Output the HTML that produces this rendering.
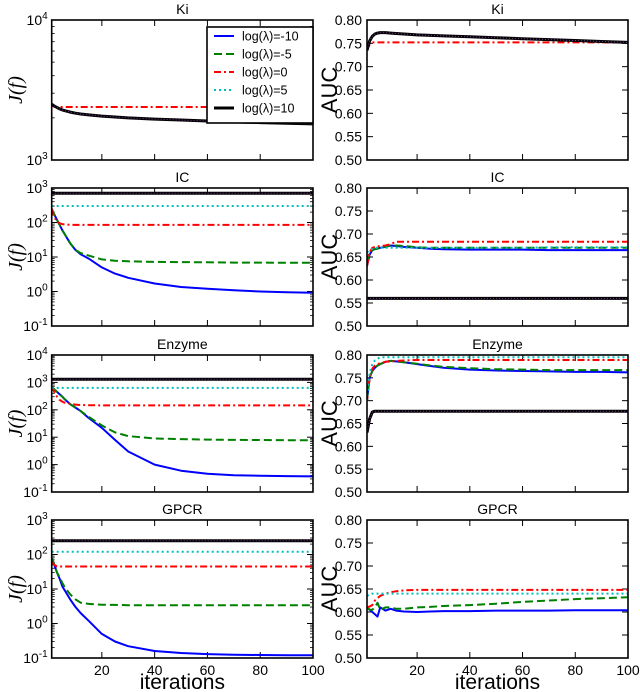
<!DOCTYPE html>
<html><head><meta charset="utf-8">
<style>
body{margin:0;background:#fff;}
svg{display:block;font-family:"Liberation Sans",sans-serif;}
</style></head>
<body>
<svg id="fig" width="640" height="692" viewBox="0 0 640 692" xmlns="http://www.w3.org/2000/svg"></svg>
<script>
const iters = [1,2,3,4,5,6,8,10,12,15,20,25,30,40,50,60,70,80,90,100];
const xTicks = [20,40,60,80,100];
const seriesNames = ["log(λ)=-10","log(λ)=-5","log(λ)=0","log(λ)=5","log(λ)=10"];
const aucTicks = ["0.50","0.55","0.60","0.65","0.70","0.75","0.80"];

// Ki
const kiJ_m10 = [2500,2430,2370,2320,2280,2250,2200,2160,2130,2100,2060,2030,2000,1960,1930,1900,1870,1850,1830,1810];
const kiJ_m5 = kiJ_m10.slice();
const kiJ_0 = [2500,2400,2390,2390,2390,2390,2390,2390,2390,2390,2390,2390,2390,2390,2390,2390,2390,2390,2390,2390];
const kiJ_5 = kiJ_m10.slice();
const kiJ_10 = kiJ_m10.slice();
const kiA_m10 = [0.735,0.755,0.765,0.770,0.772,0.773,0.773,0.772,0.771,0.770,0.768,0.767,0.766,0.764,0.762,0.760,0.758,0.756,0.754,0.752];
const kiA_m5 = kiA_m10.slice();
const kiA_0 = [0.735,0.748,0.752,0.752,0.752,0.752,0.752,0.752,0.752,0.752,0.752,0.752,0.752,0.752,0.752,0.752,0.752,0.752,0.752,0.752];
const kiA_5 = kiA_m10.slice();
const kiA_10 = kiA_m10.slice();
// IC
const icJ_m10 = [250,170,120,85,60,45,25,16,12,9,5,3.3,2.5,1.7,1.35,1.2,1.08,1.0,0.95,0.92];
const icJ_m5 = [250,170,120,85,60,45,25,16,13,11,8.5,7.8,7.5,7.2,7.1,7.0,6.9,6.9,6.8,6.8];
const icJ_0 = [250,140,110,95,90,88,86,85,85,85,85,85,85,85,85,85,85,85,85,85];
const icJ_5 = [300,300,300,300,300,300,300,300,300,300,300,300,300,300,300,300,300,300,300,300];
const icJ_10 = [700,700,700,700,700,700,700,700,700,700,700,700,700,700,700,700,700,700,700,700];
const icA_m10 = [0.63,0.655,0.665,0.667,0.668,0.670,0.672,0.675,0.674,0.672,0.670,0.668,0.667,0.666,0.666,0.666,0.665,0.665,0.665,0.665];
const icA_m5 = [0.64,0.66,0.665,0.667,0.668,0.670,0.673,0.675,0.675,0.674,0.671,0.670,0.670,0.670,0.670,0.670,0.670,0.670,0.670,0.670];
const icA_0 = [0.63,0.66,0.67,0.672,0.673,0.674,0.675,0.678,0.683,0.683,0.683,0.683,0.683,0.683,0.683,0.683,0.683,0.683,0.683,0.683];
const icA_5 = [0.66,0.665,0.668,0.670,0.670,0.670,0.670,0.670,0.670,0.670,0.670,0.670,0.670,0.670,0.670,0.670,0.671,0.671,0.671,0.671];
const icA_10 = [0.56,0.56,0.56,0.56,0.56,0.56,0.56,0.56,0.56,0.56,0.56,0.56,0.56,0.56,0.56,0.56,0.56,0.56,0.56,0.56];
// Enzyme
const enJ_m10 = [700,550,450,370,300,240,160,120,90,50,22,8,3,1.0,0.6,0.46,0.41,0.39,0.38,0.37];
const enJ_m5 = [700,550,450,370,300,240,160,120,90,55,27,15,11,9,8.5,8.2,8,7.9,7.8,7.7];
const enJ_0 = [700,450,300,230,200,180,165,155,150,147,145,145,145,145,145,145,145,145,145,145];
const enJ_5 = [630,630,630,630,630,630,630,630,630,630,630,630,630,630,630,630,630,630,630,630];
const enJ_10 = [1300,1300,1300,1300,1300,1300,1300,1300,1300,1300,1300,1300,1300,1300,1300,1300,1300,1300,1300,1300];
const enA_m10 = [0.70,0.75,0.765,0.772,0.777,0.780,0.785,0.787,0.786,0.784,0.780,0.776,0.772,0.768,0.766,0.765,0.764,0.763,0.763,0.762];
const enA_m5 = [0.70,0.75,0.765,0.772,0.777,0.780,0.785,0.787,0.786,0.784,0.781,0.777,0.774,0.771,0.769,0.768,0.767,0.767,0.767,0.767];
const enA_0 = [0.70,0.75,0.77,0.777,0.780,0.782,0.785,0.786,0.787,0.788,0.789,0.789,0.789,0.789,0.789,0.789,0.789,0.789,0.789,0.789];
const enA_5 = [0.70,0.76,0.78,0.788,0.792,0.795,0.795,0.795,0.795,0.795,0.795,0.795,0.795,0.795,0.795,0.795,0.795,0.795,0.795,0.795];
const enA_10 = [0.63,0.66,0.675,0.677,0.677,0.677,0.677,0.677,0.677,0.677,0.677,0.677,0.677,0.677,0.677,0.677,0.677,0.677,0.677,0.677];
// GPCR
const gpJ_m10 = [80,50,30,20,12,9,5,3,2,1.2,0.5,0.3,0.22,0.16,0.14,0.13,0.125,0.122,0.12,0.12];
const gpJ_m5 = [80,50,30,22,15,11,7,5,4,3.7,3.5,3.45,3.4,3.4,3.4,3.4,3.4,3.4,3.4,3.4];
const gpJ_0 = [60,50,45,45,45,45,45,45,45,45,45,45,45,45,45,45,45,45,45,45];
const gpJ_5 = [120,120,120,120,120,120,120,120,120,120,120,120,120,120,120,120,120,120,120,120];
const gpJ_10 = [250,250,250,250,250,250,250,250,250,250,250,250,250,250,250,250,250,250,250,250];
const gpA_m10 = [0.61,0.605,0.60,0.595,0.59,0.61,0.603,0.607,0.603,0.601,0.600,0.601,0.602,0.602,0.603,0.603,0.603,0.604,0.604,0.604];
const gpA_m5 = [0.61,0.605,0.605,0.61,0.62,0.605,0.61,0.61,0.607,0.607,0.610,0.611,0.613,0.615,0.618,0.622,0.625,0.628,0.630,0.632];
const gpA_0 = [0.61,0.612,0.615,0.625,0.63,0.635,0.64,0.643,0.645,0.647,0.648,0.648,0.648,0.648,0.648,0.648,0.648,0.648,0.648,0.648];
const gpA_5 = [0.635,0.638,0.64,0.64,0.64,0.64,0.64,0.64,0.64,0.64,0.64,0.64,0.64,0.64,0.64,0.64,0.64,0.64,0.64,0.64];

const NS = "http://www.w3.org/2000/svg";
const svg = document.getElementById('fig');
function mk(tag, attrs, parent){
  const e = document.createElementNS(NS, tag);
  for (const k in attrs) e.setAttribute(k, attrs[k]);
  (parent||svg).appendChild(e);
  return e;
}
const styles = [
  {stroke:"#0000ff", dash:"", w:2},
  {stroke:"#008000", dash:"8,4", w:2},
  {stroke:"#ff0000", dash:"7,3,2,3", w:2},
  {stroke:"#00bfbf", dash:"2,3", w:2},
  {stroke:"#000000", dash:"", w:3}
];
const rows = [
  {name:"Ki", y0:20, y1:160, lmin:3, lmax:4, J:[kiJ_m10,kiJ_m5,kiJ_0,kiJ_5,kiJ_10], A:[kiA_m10,kiA_m5,kiA_0,kiA_5,kiA_10]},
  {name:"IC", y0:188, y1:326, lmin:-1, lmax:3, J:[icJ_m10,icJ_m5,icJ_0,icJ_5,icJ_10], A:[icA_m10,icA_m5,icA_0,icA_5,icA_10]},
  {name:"Enzyme", y0:355, y1:492, lmin:-1, lmax:4, J:[enJ_m10,enJ_m5,enJ_0,enJ_5,enJ_10], A:[enA_m10,enA_m5,enA_0,enA_5,enA_10]},
  {name:"GPCR", y0:520, y1:658, lmin:-1, lmax:3, J:[gpJ_m10,gpJ_m5,gpJ_0,gpJ_5,gpJ_10], A:[gpA_m10,gpA_m5,gpA_0,gpA_5,null]}
];
const L = {x0:51.7, x1:313}, R = {x0:367, x1:628};
function xs(p, v){ return p.x0 + (v-1)/99*(p.x1-p.x0); }

rows.forEach((r, ri) => {
  const last = ri === rows.length-1;
  [0,1].forEach(side => {
    const p = side===0 ? L : R;
    const g = mk('g', {});
    
    
    const ys = side===0
      ? v => r.y1 - (Math.log10(v)-r.lmin)/(r.lmax-r.lmin)*(r.y1-r.y0)
      : v => r.y1 - (v-0.5)/0.3*(r.y1-r.y0);
    const t = mk('text', {x:(p.x0+p.x1)/2, y:r.y0-6, 'text-anchor':'middle', 'font-size':14}, g);
    t.textContent = r.name;
    
    
    const cid = 'c'+ri+side;
    const cp = mk('clipPath', {id:cid}, g);
    mk('rect', {x:p.x0, y:r.y0, width:p.x1-p.x0, height:r.y1-r.y0}, cp);
    xTicks.forEach(v => {
      const x = xs(p, v);
      mk('line', {x1:x, x2:x, y1:r.y1, y2:r.y1-6, stroke:'#000', 'stroke-width':1}, g);
      mk('line', {x1:x, x2:x, y1:r.y0, y2:r.y0+6, stroke:'#000', 'stroke-width':1}, g);
      if (last) {
        const tl = mk('text', {x:x, y:r.y1+17, 'text-anchor':'middle', 'font-size':14}, g);
        tl.textContent = v;
        
        
      }
    });
    if (side===0) {
      for (let e=r.lmin; e<=r.lmax; e++) {
        const y = ys(Math.pow(10,e));
        mk('line', {x1:p.x0, x2:p.x0+6, y1:y, y2:y, stroke:'#000'}, g);
        mk('line', {x1:p.x1, x2:p.x1-6, y1:y, y2:y, stroke:'#000'}, g);
        const tl = mk('text', {x:p.x0-4, y:y+5, 'text-anchor':'end', 'font-size':14}, g);
        
        
        const a = mk('tspan', {}, tl); a.textContent = '10';
        const b = mk('tspan', {'font-size':10, dy:-6}, tl); b.textContent = String(e);
        if (e<r.lmax) for (let m=2; m<10; m++) {
          const ym = ys(m*Math.pow(10,e));
          mk('line', {x1:p.x0, x2:p.x0+3, y1:ym, y2:ym, stroke:'#000', 'stroke-width':0.8}, g);
          mk('line', {x1:p.x1, x2:p.x1-3, y1:ym, y2:ym, stroke:'#000', 'stroke-width':0.8}, g);
        }
      }
    } else {
      aucTicks.forEach(s => {
        const y = ys(parseFloat(s));
        mk('line', {x1:p.x0, x2:p.x0+6, y1:y, y2:y, stroke:'#000'}, g);
        mk('line', {x1:p.x1, x2:p.x1-6, y1:y, y2:y, stroke:'#000'}, g);
        const tl = mk('text', {x:p.x0-5, y:y+5, 'text-anchor':'end', 'font-size':14}, g);
        tl.textContent = s;
        
        
      });
    }
    const data = side===0 ? r.J : r.A;
    const sg = mk('g', {'clip-path':'url(#'+cid+')'}, g);
    data.forEach((arr, si) => {
      if (!arr) return;
      const st = styles[si];
      const d = arr.map((v,i)=> (i?'L':'M') + xs(p, iters[i]).toFixed(1) + ',' + ys(v).toFixed(1)).join(' ');
      const path = mk('path', {d:d, fill:'none', stroke:st.stroke, 'stroke-width':st.w, 'stroke-dasharray':st.dash, 'stroke-linejoin':'round'}, sg);
      
      
      if (si===4) {
        const dots = mk('path', {d:d, fill:'none', stroke:'#7a3a9a', 'stroke-width':1, 'stroke-dasharray':'1,2'}, sg);
        
        
      }
    });
    mk('rect', {x:p.x0, y:r.y0, width:p.x1-p.x0, height:r.y1-r.y0, fill:'none', stroke:'#000', 'stroke-width':1.6}, g);
    const cy = (r.y0+r.y1)/2;
    const yl = mk('text', {x:0, y:0, 'text-anchor':'middle', 'font-size': side===0?20:22,
      'font-family': side===0 ? '"Liberation Serif",serif' : '"Liberation Sans",sans-serif',
      'font-style': side===0?'italic':'normal',
      transform: 'translate(' + (side===0?22:337) + ',' + cy + ') rotate(-90)'}, g);
    yl.textContent = side===0 ? 'J(f)' : 'AUC';
    
    
    if (last) {
      const xl = mk('text', {x:(p.x0+p.x1)/2, y:689, 'text-anchor':'middle', 'font-size':21}, g);
      xl.textContent = 'iterations';
      
      
    }
  });
});

const lg = mk('g', {});


mk('rect', {x:207, y:27, width:106, height:96, fill:'#fff', stroke:'#000', 'stroke-width':1.6}, lg);
seriesNames.forEach((n, i) => {
  const y = 36 + i*18;
  const st = styles[i];
  const ln = mk('line', {x1:214, x2:234, y1:y, y2:y, stroke:st.stroke, 'stroke-width':st.w, 'stroke-dasharray':st.dash}, lg);
  
  
  const tx = mk('text', {x:242, y:y+4.5, 'font-size':12.5}, lg);
  tx.textContent = n;
  
  
});
</script>
</body></html>
